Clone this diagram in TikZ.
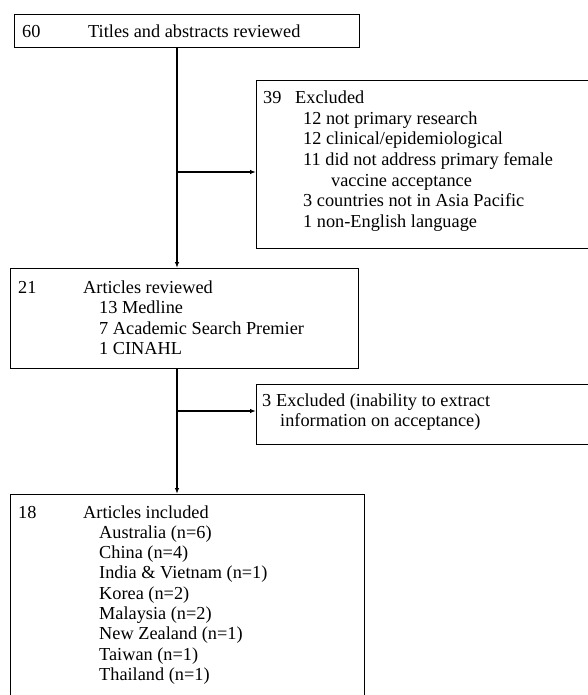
\documentclass[tikz,border=0pt]{standalone}
\usepackage{fontspec}
\setmainfont{Liberation Serif}
\usetikzlibrary{arrows.meta}
\begin{document}
\begin{tikzpicture}[x=1pt,y=-1pt,
  box/.style={draw=black, line width=1.4pt, inner sep=0pt, anchor=north west},
  txt/.style={anchor=base west, inner sep=0pt, font=\fontsize{18.3}{20.5}\selectfont},
  conn/.style={draw=black, line width=1.3pt},
  arr/.style={conn, -{Latex[length=6pt,width=4.5pt]}}]
\useasboundingbox (0,0) rectangle (588,695);
\clip (0,0) rectangle (588,695);
\fill[white] (0,0) rectangle (588,695);
% boxes
\node[box, minimum width=345pt, minimum height=33pt] (b1) at (14,14) {};
\node[box, minimum width=345pt, minimum height=168pt] (b2) at (256,80) {};
\node[box, minimum width=348pt, minimum height=100pt] (b3) at (10,268) {};
\node[box, minimum width=345pt, minimum height=60pt] (b4) at (256,384) {};
\node[box, minimum width=354pt, minimum height=220pt] (b5) at (10,494) {};
% box 1 text
\node[txt] (t1a) at (22,38) {60};
\node[txt] (t1b) at (88,38) {Titles and abstracts reviewed};
% box 2 text
\node[txt] (t2a) at (263,104) {39};
\node[txt] (t2b) at (295,104) {Excluded};
\node[txt] (t2c) at (303,124.5) {12 not primary research};
\node[txt] (t2d) at (303,145) {12 clinical/epidemiological};
\node[txt] (t2e) at (303,165.5) {11 did not address primary female};
\node[txt] (t2f) at (331,186) {vaccine acceptance};
\node[txt] (t2g) at (303,206.5) {3 countries not in Asia Pacific};
\node[txt] (t2h) at (303,227) {1 non-English language};
% box 3 text
\node[txt] (t3a) at (18,293) {21};
\node[txt] (t3b) at (83,293) {Articles reviewed};
\node[txt] (t3c) at (99,313.5) {13 Medline};
\node[txt] (t3d) at (99,334) {7 Academic Search Premier};
\node[txt] (t3e) at (99,354.5) {1 CINAHL};
% box 4 text
\node[txt] (t4a) at (262,406) {3};
\node[txt] (t4b) at (276,406) {Excluded (inability to extract};
\node[txt] (t4c) at (280,426.5) {information on acceptance)};
% box 5 text
\node[txt] (t5a) at (18,518) {18};
\node[txt] (t5b) at (83,518) {Articles included};
\node[txt] (t5c) at (99,538.3) {Australia (n=6)};
\node[txt] (t5d) at (99,558.6) {China (n=4)};
\node[txt] (t5e) at (99,578.9) {India \& Vietnam (n=1)};
\node[txt] (t5f) at (99,599.2) {Korea (n=2)};
\node[txt] (t5g) at (99,619.5) {Malaysia (n=2)};
\node[txt] (t5h) at (99,639.8) {New Zealand (n=1)};
\node[txt] (t5i) at (99,660.1) {Taiwan (n=1)};
\node[txt] (t5j) at (99,680.4) {Thailand (n=1)};
% connectors
\coordinate (j1) at (177,172);
\coordinate (j2) at (177,411);
\draw[arr] (b1.south -| j1) -- (b3.north -| j1);
\draw[arr] (j1) -- (j1 -| b2.west);
\draw[arr] (b3.south -| j2) -- (b5.north -| j2);
\draw[arr] (j2) -- (j2 -| b4.west);
\end{tikzpicture}
\end{document}
